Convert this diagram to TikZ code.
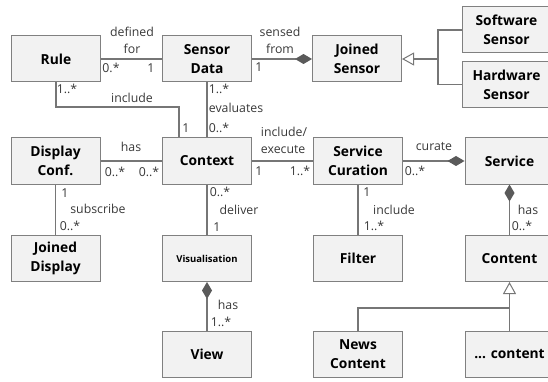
\documentclass[tikz,border=0pt]{standalone}
\usepackage{fontspec}
\setmainfont{Open Sans}
\usepackage{xcolor}
\usepackage{tikz}
\usetikzlibrary{arrows.meta}

\definecolor{boxfill}{HTML}{F2F2F2}
\definecolor{boxline}{HTML}{808080}
\definecolor{assoc}{HTML}{767676}
\definecolor{lbltext}{HTML}{383838}
\definecolor{diamondfill}{HTML}{5A5A5A}

\begin{document}
\begin{tikzpicture}
  [x=1pt,y=-1pt,
    cls/.style={draw=boxline,fill=boxfill,line width=1pt,minimum width=89pt,
      minimum height=46pt,align=center,inner sep=1pt,
      font=\fontsize{13.8}{19}\selectfont\bfseries},
    small cls/.style={cls,font=\fontsize{9.5}{12}\selectfont\bfseries},
    lbl/.style={text=lbltext,inner sep=0pt,align=center,
      font=\fontsize{12.3}{17}\selectfont},
    conn/.style={draw=assoc,line width=1.2pt},
    comp/.style={{Diamond[length=17pt,width=10pt,fill=diamondfill,color=diamondfill]}-},
    gen/.style={-{Triangle[length=12pt,width=13pt,fill=white,line width=1pt]}}]
  \clip (0,0) rectangle (548,382);

  % classes
  \node[cls] (Rule) at (56,59) {Rule};
  \node[cls] (SensorData) at (207,59) {Sensor\\Data};
  \node[cls] (JoinedSensor) at (357,59) {Joined\\Sensor};
  \node[cls] (SoftwareSensor) at (506.5,30) {Software\\Sensor};
  \node[cls] (HardwareSensor) at (506.5,84.5) {Hardware\\Sensor};
  \node[cls] (DisplayConf) at (55.5,161) {Display\\Conf.};
  \node[cls] (Context) at (207,161) {Context};
  \node[cls] (ServiceCuration) at (358,161) {Service\\Curation};
  \node[cls] (Service) at (509.5,161) {Service};
  \node[cls] (JoinedDisplay) at (55.5,258.5) {Joined\\Display};
  \node[small cls] (Visualisation) at (207,258.5) {Visualisation};
  \node[cls] (Filter) at (358,258.5) {Filter};
  \node[cls] (Content) at (509.5,258.5) {Content};
  \node[cls] (View) at (207,354.5) {View};
  \node[cls] (NewsContent) at (358,354.5) {News\\Content};
  \node[cls] (OtherContent) at (509.5,354.5) {... content};

  % bends and junctions
  \coordinate (ruleBend) at (56,107);
  \coordinate (sensorJoin) at (438,59);
  \coordinate (contentJoin) at (509.5,308);

  % associations
  \draw[conn] (Rule) -- (SensorData);
  \draw[conn,comp] (JoinedSensor) -- (SensorData);
  \draw[conn] (Rule.south) -- (ruleBend) -| ([xshift=-28pt]Context.north);
  \draw[conn] (SensorData) -- (Context);
  \draw[conn] (DisplayConf) -- (Context);
  \draw[conn] (DisplayConf) -- (JoinedDisplay);
  \draw[conn] (Context) -- (Visualisation);
  \draw[conn,comp] (Visualisation) -- (View);
  \draw[conn] (Context) -- (ServiceCuration);
  \draw[conn,comp] (Service) -- (ServiceCuration);
  \draw[conn] (ServiceCuration) -- (Filter);
  \draw[conn,comp] (Service) -- (Content);

  % generalisations
  \draw[conn] (SoftwareSensor.west) -| (sensorJoin) |- (HardwareSensor.west);
  \draw[conn,gen] (sensorJoin) -- (JoinedSensor);
  \draw[conn] (NewsContent.north) |- (contentJoin);
  \draw[conn,gen] (OtherContent.north) -- (Content.south);

  % role names and multiplicities
  \node[lbl] (lDefined) at (132,40) {defined\\for};
  \node[lbl] (mRule) at (111,68) {0.*};
  \node[lbl] (mSensor) at (151,68) {1};
  \node[lbl] (lSensed) at (280,40) {sensed\\from};
  \node[lbl] (mSensed) at (259,67) {1};
  \node[lbl] (mRuleIncl) at (67,89) {1..*};
  \node[lbl] (lInclude) at (132,98) {include};
  \node[lbl] (mCtxIncl) at (186,128) {1};
  \node[lbl] (mEvalTop) at (219,89) {1..*};
  \node[lbl] (lEvaluates) at (236,108) {evaluates};
  \node[lbl] (mEvalBot) at (219,128) {0..*};
  \node[lbl] (lHas) at (131,147) {has};
  \node[lbl] (mDispHas) at (115,172) {0..*};
  \node[lbl] (mCtxHas) at (149,172) {0..*};
  \node[lbl] (mSubTop) at (65,193) {1};
  \node[lbl] (lSubscribe) at (98,209) {subscribe};
  \node[lbl] (mSubBot) at (70,226) {0..*};
  \node[lbl] (mDelTop) at (220,192) {0..*};
  \node[lbl] (lDeliver) at (239,210) {deliver};
  \node[lbl] (mDelBot) at (217,227) {1};
  \node[lbl] (lViewHas) at (228,305) {has};
  \node[lbl] (mView) at (221,322) {1..*};
  \node[lbl,align=left] (lExecute) at (284,140) {include/\\execute};
  \node[lbl] (mExecL) at (259,171) {1};
  \node[lbl] (mExecR) at (300,171) {1..*};
  \node[lbl] (lCurate) at (434,147) {curate};
  \node[lbl] (mCurate) at (415,171) {0..*};
  \node[lbl] (mFilterTop) at (367,192) {1};
  \node[lbl] (lFilter) at (394,210) {include};
  \node[lbl] (mFilterBot) at (374,226) {1..*};
  \node[lbl] (lContentHas) at (528,210) {has};
  \node[lbl] (mContent) at (522,226) {0..*};
\end{tikzpicture}
\end{document}
